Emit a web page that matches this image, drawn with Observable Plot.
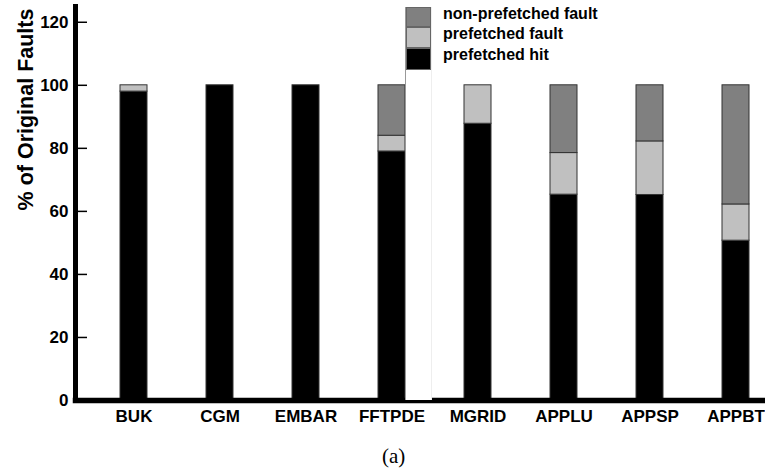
<!DOCTYPE html>
<html>
<head>
<meta charset="utf-8">
<script src="https://cdn.jsdelivr.net/npm/d3@7"></script>
<script src="https://cdn.jsdelivr.net/npm/@observablehq/plot@0.6"></script>
<style>
  html, body { margin: 0; padding: 0; background: #fff; }
  #wrap { position: relative; width: 765px; height: 471px; overflow: hidden; }
  #legend { position: absolute; left: 0; top: 0; }
  .col { position: absolute; left: 405px; top: 7px; width: 25px; height: 393px; background: #fff;
         border-left: 1px solid #999; border-right: 1px solid #eee; }
  .sw { position: absolute; left: 0; width: 25px; }
  .lt { position: absolute; left: 443px; font: bold 16px "Liberation Sans", Arial, sans-serif; color: #000; white-space: nowrap; line-height: 1; }
  #caption { font: 21px "Liberation Serif", "Times New Roman", serif; padding-left: 382px; height: 30px; line-height: 30px; padding-top: 9px; }
</style>
</head>
<body>
<div id="wrap"><div id="chart"></div><div id="legend"></div><div id="caption">(a)</div></div>
<script>
const benchmarks = ["BUK", "CGM", "EMBAR", "FFTPDE", "MGRID", "APPLU", "APPSP", "APPBT"];
const seriesNames = ["prefetched hit", "prefetched fault", "non-prefetched fault"];
const prefetchedHit      = [98, 100, 100, 79, 87.8, 65.3, 65.2, 50.7];
const prefetchedFault    = [2, 0, 0, 5, 12.2, 13.2, 17.0, 11.5];
const nonPrefetchedFault = [0, 0, 0, 16, 0, 21.5, 17.8, 37.8];
const seriesColors = ["#000000", "#c0c0c0", "#808080"];
const yTicks = [0, 20, 40, 60, 80, 100, 120];
const yLabel = "% of Original Faults";

const seriesValues = [prefetchedHit, prefetchedFault, nonPrefetchedFault];
const rows = [];
benchmarks.forEach((b, i) => {
  seriesNames.forEach((s, j) => rows.push({benchmark: b, series: s, value: seriesValues[j][i]}));
});

const font = '"Liberation Sans", Arial, sans-serif';
const chart = Plot.plot({
  width: 765,
  height: 432,
  marginLeft: 75,
  marginRight: 0,
  marginTop: 6,
  marginBottom: 32,
  style: {fontFamily: font, background: "#fff"},
  x: {domain: benchmarks, paddingInner: 0.686, paddingOuter: 0.354, align: 0.73, label: null},
  y: {domain: [0, 125], label: null},
  color: {domain: seriesNames, range: seriesColors},
  marks: [
    Plot.barY(rows, {x: "benchmark", y: "value", fill: "series", z: "series", order: seriesNames,
      stroke: "#333", strokeWidth: 1}),
    Plot.tickY(yTicks.filter(d => d > 0), {y: d => d, stroke: "#000", strokeWidth: 1.5, insetLeft: 3, insetRight: 678}),
    Plot.axisY({ticks: yTicks, tickSize: 0, tickPadding: 7, fontSize: 17, fontWeight: "bold", fill: "#000"}),
    Plot.axisX({tickSize: 0, tickPadding: 9, fontSize: 17, fontWeight: "bold", fill: "#000"}),
    Plot.frame({anchor: "left", stroke: "#000", strokeWidth: 5}),
    Plot.frame({anchor: "bottom", stroke: "#000", strokeWidth: 5.5}),
    Plot.text([yLabel], {frameAnchor: "top-left", rotate: -90, dx: -58, dy: 103, textAnchor: "middle",
      fontSize: 21.5, fontWeight: "bold", fill: "#000"})
  ]
});
document.getElementById("chart").appendChild(chart);

// legend overlay
const leg = document.getElementById("legend");
const col = document.createElement("div");
col.className = "col";
leg.appendChild(col);
const legendOrder = [2, 1, 0];
const swTops = [0, 20, 41];
const swHeights = [20, 21, 22];
const textTops = [5.5, 26, 46.5];
legendOrder.forEach((j, k) => {
  const sw = document.createElement("div");
  sw.className = "sw";
  sw.style.top = swTops[k] + "px";
  sw.style.height = swHeights[k] + "px";
  sw.style.background = seriesColors[j];
  sw.style.boxShadow = "inset 0 0 0 1px #666";
  col.appendChild(sw);
  const t = document.createElement("div");
  t.className = "lt";
  t.style.top = textTops[k] + "px";
  t.textContent = seriesNames[j];
  leg.appendChild(t);
});
</script>
</body>
</html>
